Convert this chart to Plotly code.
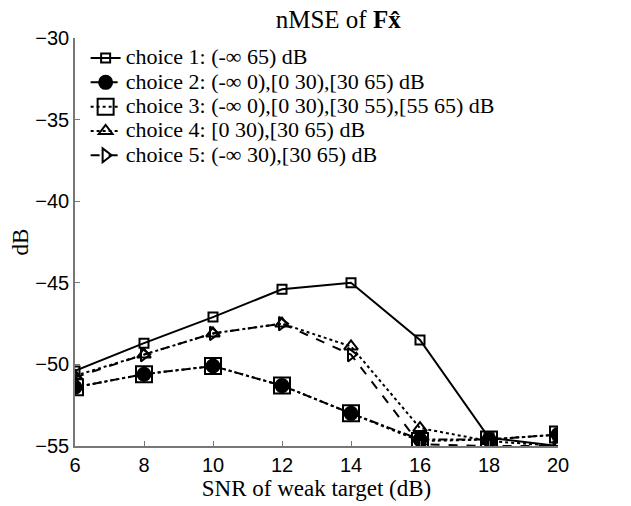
import plotly.graph_objects as go

snr = [6, 8, 10, 12, 14, 16, 18, 20]
choice1 = [-50.4, -48.7, -47.1, -45.4, -45.0, -48.5, -54.5, -55.0]
choice2 = [-51.4, -50.6, -50.1, -51.3, -53.0, -54.6, -54.6, -54.3]
choice3 = [-51.4, -50.6, -50.1, -51.3, -53.0, -54.7, -54.6, -54.3]
choice4 = [-50.7, -49.4, -48.1, -47.5, -48.9, -53.9, -54.7, -55.0]
choice5 = [-50.8, -49.4, -48.1, -47.5, -49.4, -54.9, -55.0, -55.0]
names = [
    "choice 1: (-∞ 65) dB",
    "choice 2: (-∞ 0),[0 30),[30 65) dB",
    "choice 3: (-∞ 0),[0 30),[30 55),[55 65) dB",
    "choice 4: [0 30),[30 65) dB",
    "choice 5: (-∞ 30),[30 65) dB",
]
y_ticks = [-55, -50, -45, -40, -35, -30]
x_ticks = snr

styles = [
    dict(dash="solid", symbol="square-open", size=9),
    dict(dash="dashdot", symbol="circle", size=13),
    dict(dash="dot", symbol="square-open", size=16),
    dict(dash="dot", symbol="triangle-up-open", size=12),
    dict(dash="dash", symbol="triangle-right-open", size=12),
]

serif = "Liberation Serif"
fig = go.Figure()
for vals, name, st in zip([choice1, choice2, choice3, choice4, choice5], names, styles):
    fig.add_trace(go.Scatter(
        x=snr, y=vals, mode="lines+markers",
        name='<span style="font-size:22px">' + name + '</span>',
        line=dict(color="black", width=2, dash=st["dash"]),
        marker=dict(symbol=st["symbol"], size=st["size"], color="black",
                    line=dict(color="black", width=2)),
        cliponaxis=True,
    ))

fig.update_layout(
    width=631, height=506,
    margin=dict(l=75, r=73, t=38, b=53),
    paper_bgcolor="white", plot_bgcolor="white",
    title=dict(text="nMSE of <b>Fx̂</b>", x=0.536, xanchor="center", y=0.962, yanchor="middle",
               font=dict(family=serif, size=25, color="black")),
    showlegend=True,
    legend=dict(x=0.022, y=0.993, xanchor="left", yanchor="top", bgcolor="rgba(0,0,0,0)",
                font=dict(family=serif, size=16.4, color="black"),
                tracegroupgap=0, itemwidth=30),
    xaxis=dict(range=[6, 20], tickvals=x_ticks, ticks="inside", ticklen=5, showgrid=False,
               zeroline=False, showline=True, linecolor="#777", linewidth=1.5, tickcolor="#777",
               tickfont=dict(family="Liberation Sans", size=20, color="black"),
               title=dict(text="SNR of weak target (dB)", standoff=2,
                          font=dict(family=serif, size=23, color="black"))),
    yaxis=dict(range=[-55, -30], tickvals=y_ticks, ticks="inside", ticklen=5, showgrid=False,
               zeroline=False, showline=True, linecolor="#777", linewidth=1.5, tickcolor="#777",
               tickfont=dict(family="Liberation Sans", size=20, color="black"),
               title=dict(text="dB", standoff=0,
                          font=dict(family=serif, size=23, color="black"))),
)

fig.write_html("out.html")
